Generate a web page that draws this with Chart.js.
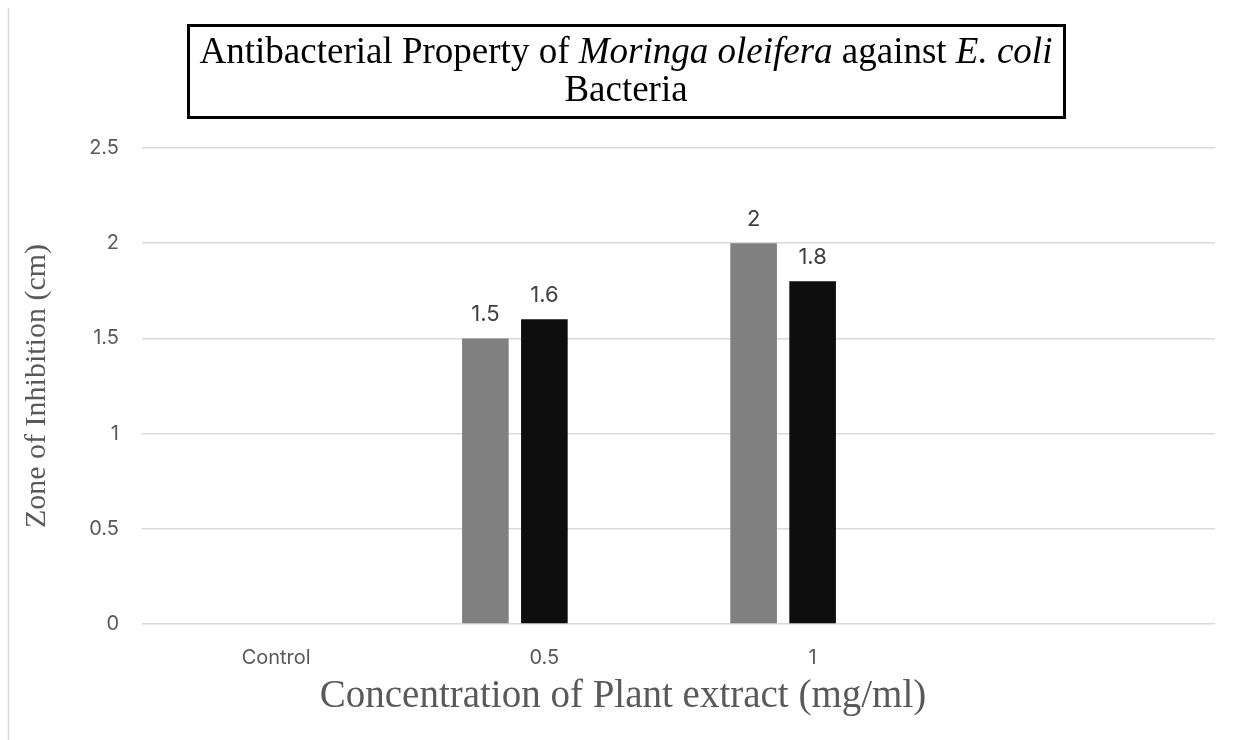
<!DOCTYPE html>
<html>
<head>
<meta charset="utf-8">
<script src="https://cdn.jsdelivr.net/npm/chart.js@4"></script>
<style>
  body { margin: 0; background: #ffffff; }
  #wrap { width: 1233px; height: 740px; }
</style>
</head>
<body>
<div id="wrap"><canvas id="zoneChart" width="1233" height="740"></canvas></div>
<script>
const categories = ["Control", "0.5", "1", ""];
const seriesGray = [null, 1.5, 2, null];
const seriesBlack = [null, 1.6, 1.8, null];
const seriesEmpty = [null, null, null, null];
const yMin = 0;
const yMax = 2.5;
const yStep = 0.5;

const sansFont = "Inter, 'Liberation Sans', sans-serif";
const serifFont = "'Liberation Serif', 'Times New Roman', serif";

// white page and the faint frame line on the left
const backdrop = {
    id: "backdrop",
    beforeDraw: function (chart) {
        const ctx = chart.ctx;
        ctx.save();
        ctx.fillStyle = "#ffffff";
        ctx.fillRect(0, 0, chart.width, chart.height);
        ctx.strokeStyle = "#d9d9d9";
        ctx.lineWidth = 1.5;
        ctx.beginPath();
        ctx.moveTo(8.5, 8);
        ctx.lineTo(8.5, chart.height);
        ctx.stroke();
        ctx.restore();
    }
};

// numbers above the bars
const barValues = {
    id: "barValues",
    afterDatasetsDraw: function (chart) {
        const ctx = chart.ctx;
        ctx.save();
        ctx.font = "22px " + sansFont;
        ctx.fillStyle = "#404040";
        ctx.textAlign = "center";
        ctx.textBaseline = "alphabetic";
        chart.data.datasets.forEach(function (ds, i) {
            const meta = chart.getDatasetMeta(i);
            meta.data.forEach(function (bar, j) {
                const v = ds.data[j];
                if (v === null || v === undefined) return;
                ctx.fillText(String(v), bar.x, bar.y - 17);
            });
        });
        ctx.restore();
    }
};

// boxed title with italic species names, plus the x axis title
const titles = {
    id: "titles",
    afterDraw: function (chart) {
        const ctx = chart.ctx;
        ctx.save();

        ctx.strokeStyle = "#000000";
        ctx.lineWidth = 3;
        ctx.strokeRect(188.5, 25.5, 876, 92);

        const runs = [
            ["Antibacterial Property of ", false],
            ["Moringa oleifera", true],
            [" against ", false],
            ["E. coli", true]
        ];
        const size = 37;
        let total = 0;
        runs.forEach(function (r) {
            ctx.font = (r[1] ? "italic " : "") + size + "px " + serifFont;
            total += ctx.measureText(r[0]).width;
        });
        const cx = 626;
        let x = cx - total / 2;
        ctx.fillStyle = "#000000";
        ctx.textAlign = "left";
        ctx.textBaseline = "alphabetic";
        runs.forEach(function (r) {
            ctx.font = (r[1] ? "italic " : "") + size + "px " + serifFont;
            ctx.fillText(r[0], x, 63);
            x += ctx.measureText(r[0]).width;
        });
        ctx.font = size + "px " + serifFont;
        ctx.textAlign = "center";
        ctx.fillText("Bacteria", cx, 101);

        ctx.font = "39px " + serifFont;
        ctx.fillStyle = "#595959";
        ctx.textBaseline = "middle";
        ctx.fillText("Concentration of Plant extract (mg/ml)", 623, 697);

        ctx.restore();
    }
};

const ctx = document.getElementById("zoneChart").getContext("2d");
new Chart(ctx, {
    type: "bar",
    data: {
        labels: categories,
        datasets: [
            { label: "Series 1", data: seriesGray, backgroundColor: "#808080" },
            { label: "Series 2", data: seriesBlack, backgroundColor: "#0e0e0e" },
            { label: "Series 3", data: seriesEmpty, backgroundColor: "#bfbfbf" }
        ]
    },
    options: {
        responsive: false,
        devicePixelRatio: 1,
        animation: false,
        barPercentage: 0.79,
        categoryPercentage: 0.66,
        layout: {
            padding: { top: 148, right: 18, bottom: 0, left: 0 }
        },
        scales: {
            x: {
                grid: { display: false },
                border: { display: false },
                ticks: {
                    color: "#595959",
                    font: { family: sansFont, size: 20 },
                    padding: 14,
                    maxRotation: 0,
                    autoSkip: false
                },
                afterFit: function (scale) { scale.height = 116; }
            },
            y: {
                min: yMin,
                max: yMax,
                grid: { color: "#d9d9d9", lineWidth: 1.5, drawTicks: false },
                border: { display: false },
                ticks: {
                    stepSize: yStep,
                    color: "#595959",
                    font: { family: sansFont, size: 20 },
                    padding: 23,
                    callback: function (value) {
                        return String(Number(value.toFixed(1)));
                    }
                },
                title: {
                    display: true,
                    text: "Zone of Inhibition (cm)",
                    color: "#595959",
                    font: { family: serifFont, size: 30 },
                    padding: { top: 19, bottom: 0 }
                },
                afterFit: function (scale) { scale.width = 142; }
            }
        },
        plugins: {
            legend: { display: false },
            title: { display: false },
            tooltip: { enabled: false }
        }
    },
    plugins: [backdrop, barValues, titles]
});
</script>
</body>
</html>
